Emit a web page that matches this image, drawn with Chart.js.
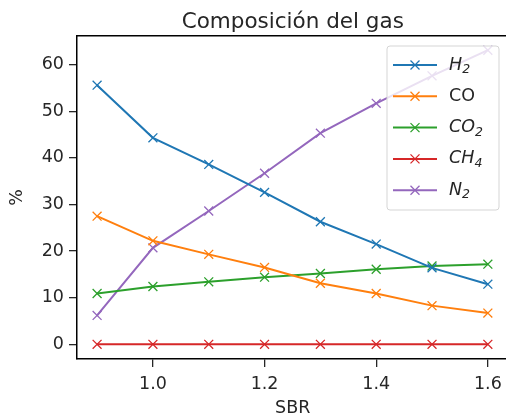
<!DOCTYPE html>
<html>
<head>
<meta charset="utf-8">
<script src="https://cdn.jsdelivr.net/npm/chart.js@4"></script>
<style>
  html, body { margin: 0; padding: 0; background: #fff; overflow: hidden; }
  #wrap { width: 506px; height: 417px; overflow: hidden; position: relative; }
  canvas { display: block; }
</style>
</head>
<body>
<div id="wrap"><canvas id="gasChart" width="512" height="417"></canvas></div>
<script>
// SBR values on the x axis
const sbr = [0.9, 1.0, 1.1, 1.2, 1.3, 1.4, 1.5, 1.6];

// gas composition (%)
const h2  = [55.6, 44.3, 38.6, 32.6, 26.3, 21.5, 16.4, 12.9];
const co  = [27.5, 22.2, 19.3, 16.5, 13.1, 10.9, 8.3, 6.7];
const co2 = [10.9, 12.4, 13.4, 14.4, 15.2, 16.1, 16.8, 17.2];
const ch4 = [0, 0, 0, 0, 0, 0, 0, 0];
const n2  = [6.2, 20.7, 28.6, 36.7, 45.3, 51.7, 57.6, 63.1];

const xTicks = [1.0, 1.2, 1.4, 1.6];
const yTicks = [0, 10, 20, 30, 40, 50, 60];

// label text + subscript, colour
const seriesNames  = [['H', '2'], ['CO', ''], ['CO', '2'], ['CH', '4'], ['N', '2']];
const seriesItalic = [true, false, true, true, true];
const seriesColors = ['#1f77b4', '#ff7f0e', '#2ca02c', '#d62728', '#9467bd'];
const seriesData   = [h2, co, co2, ch4, n2];

const FONT = "'DejaVu Sans', sans-serif";

const datasets = seriesData.map((vals, i) => ({
    label: seriesNames[i].join(''),
    data: vals.map((v, j) => ({ x: sbr[j], y: v })),
    borderColor: seriesColors[i],
    backgroundColor: seriesColors[i],
    borderWidth: 2,
    pointStyle: 'crossRot',
    pointRadius: 6.3,
    pointBorderWidth: 1.3,
    pointHoverRadius: 6.3,
    tension: 0,
    fill: false
}));

// matplotlib-like legend in the upper right corner
const boxLegend = {
    id: 'boxLegend',
    afterDraw(chart) {
        const { ctx } = chart;
        const left = 387, top = 46, right = 499, bottom = 210;
        ctx.save();
        ctx.fillStyle = 'rgba(255,255,255,0.8)';
        ctx.strokeStyle = '#d5d5d5';
        ctx.lineWidth = 1;
        ctx.beginPath();
        ctx.roundRect(left, top, right - left, bottom - top, 3);
        ctx.fill();
        ctx.stroke();

        seriesNames.forEach((name, i) => {
            const y = 65 + i * 31.3;
            ctx.strokeStyle = seriesColors[i];
            ctx.lineWidth = 2;
            ctx.beginPath();
            ctx.moveTo(393, y);
            ctx.lineTo(437, y);
            ctx.stroke();
            ctx.lineWidth = 1.3;
            const m = 4.5;
            ctx.beginPath();
            ctx.moveTo(415 - m, y - m); ctx.lineTo(415 + m, y + m);
            ctx.moveTo(415 - m, y + m); ctx.lineTo(415 + m, y - m);
            ctx.stroke();

            ctx.fillStyle = '#262626';
            ctx.textBaseline = 'middle';
            ctx.textAlign = 'left';
            const style = seriesItalic[i] ? 'italic ' : '';
            ctx.font = style + '17.5px ' + FONT;
            ctx.fillText(name[0], 449, y);
            if (name[1]) {
                const w = ctx.measureText(name[0]).width;
                ctx.font = style + '12.5px ' + FONT;
                ctx.fillText(name[1], 449 + w, y + 5);
            }
        });
        ctx.restore();
    }
};

new Chart(document.getElementById('gasChart'), {
    type: 'line',
    data: { datasets },
    plugins: [boxLegend],
    options: {
        responsive: false,
        animation: false,
        layout: { autoPadding: false, padding: { left: 0, right: 3.5, top: 0, bottom: 0 } },
        plugins: {
            legend: { display: false },
            tooltip: { enabled: false }
        },
        scales: {
            x: {
                type: 'linear',
                min: 0.864,
                max: 1.637,
                afterFit: s => { s.height = 58; s.paddingLeft = 0; s.paddingRight = 0; },
                afterBuildTicks: s => { s.ticks = xTicks.map(v => ({ value: v })); },
                ticks: {
                    color: '#262626',
                    font: { family: FONT, size: 17.5 },
                    padding: 7,
                    maxRotation: 0,
                    callback: v => v.toFixed(1)
                },
                grid: { drawOnChartArea: false, drawTicks: true, tickLength: 8, color: '#262626', lineWidth: 1.3 },
                border: { display: true, color: '#000', width: 1.5 },
                title: {
                    display: true,
                    text: 'SBR',
                    color: '#262626',
                    font: { family: FONT, size: 17.5, lineHeight: 1 },
                    padding: { top: 0, bottom: 0 }
                }
            },
            // top spine, carrying the chart title centred over the axes
            xTop: {
                type: 'linear',
                position: 'top',
                min: 0.864,
                max: 1.637,
                afterFit: s => { s.height = 36; s.paddingLeft = 0; s.paddingRight = 0; },
                ticks: { display: false },
                grid: { display: false, drawTicks: false },
                border: { display: true, color: '#000', width: 1.5 },
                title: {
                    display: true,
                    text: 'Composición del gas',
                    color: '#262626',
                    font: { family: FONT, size: 21.5, lineHeight: 1 },
                    padding: { top: 11.5, bottom: 0 }
                }
            },
            y: {
                min: -3.15,
                max: 66.15,
                afterFit: s => { s.width = 77; },
                afterBuildTicks: s => { s.ticks = yTicks.map(v => ({ value: v })); },
                ticks: {
                    color: '#262626',
                    font: { family: FONT, size: 17.5 },
                    padding: 5
                },
                grid: { drawOnChartArea: false, drawTicks: true, tickLength: 8, color: '#262626', lineWidth: 1.3 },
                border: { display: true, color: '#000', width: 1.5 },
                title: {
                    display: true,
                    text: '%',
                    color: '#262626',
                    font: { family: FONT, size: 17.5 },
                    padding: { top: 7, bottom: 0 }
                }
            }
        }
    }
});
</script>
</body>
</html>
